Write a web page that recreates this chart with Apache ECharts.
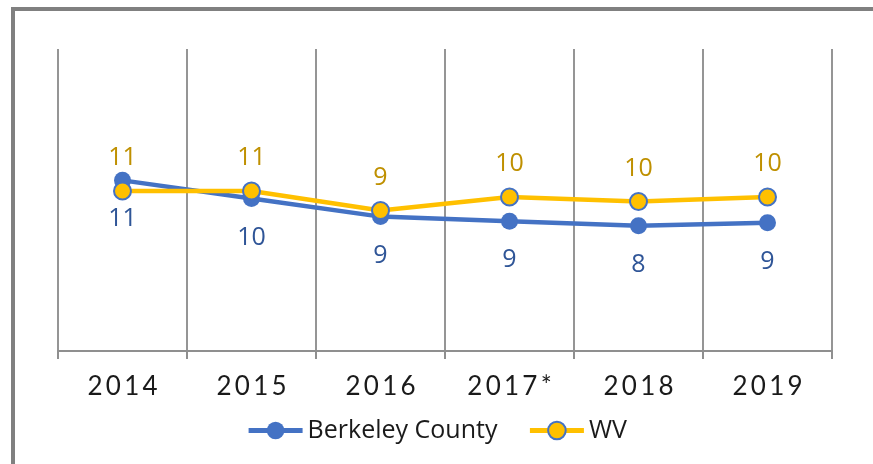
<!doctype html>
<html lang="en">
<head>
    <meta charset="utf-8">
    <title>Berkeley County vs WV</title>
    <script src="https://cdn.jsdelivr.net/npm/echarts@6/dist/echarts.min.js"></script>
    <style>
        html, body { margin: 0; padding: 0; background: #fff; }
        #main { width: 873px; height: 464px; }
    </style>
</head>
<body>
    <div id="main"></div>
    <script type="text/javascript">
        var years = ['2014', '2015', '2016', '2017*', '2018', '2019'];
        var berkeley = [11.3, 10.1, 8.9, 8.6, 8.3, 8.5];
        var wv = [10.6, 10.6, 9.3, 10.2, 9.9, 10.2];

        var blue = '#4472C4';
        var gold = '#FFC000';

        var myChart = echarts.init(document.getElementById('main'));

        function roundLabel(p) {
            return Math.round(p.value);
        }

        var option = {
            animation: false,
            backgroundColor: '#fff',
            graphic: [{
                type: 'rect',
                shape: { x: 13, y: 9, width: 2000, height: 2000 },
                style: { fill: 'none', stroke: '#808080', lineWidth: 4 },
                silent: true
            }],
            grid: { left: 58, right: 41, top: 49, bottom: 113 },
            legend: {
                top: 413,
                left: 'center',
                itemWidth: 54,
                itemHeight: 22,
                itemGap: 30,
                lineStyle: { width: 5 },
                textStyle: { fontFamily: 'Open Sans', fontSize: 25, color: '#1a1a1a' },
                data: ['Berkeley County', 'WV']
            },
            xAxis: {
                type: 'category',
                data: years,
                boundaryGap: true,
                axisLine: { lineStyle: { color: '#8f8f8f', width: 2 } },
                axisTick: { show: true, length: 8, lineStyle: { color: '#8f8f8f', width: 2 } },
                splitLine: { show: true, interval: 0, lineStyle: { color: '#959595', width: 2 } },
                axisLabel: {
                    margin: 23,
                    fontFamily: 'Lato',
                    fontSize: 26,
                    color: '#1a1a1a',
                    formatter: function (v) { return v.split('').join('\u2009'); }
                }
            },
            yAxis: {
                type: 'value',
                min: 0,
                max: 20,
                show: false,
                splitLine: { show: false }
            },
            series: [{
                name: 'Berkeley County',
                type: 'line',
                data: berkeley,
                symbol: 'circle',
                symbolSize: 17,
                lineStyle: { color: blue, width: 4.5 },
                itemStyle: { color: blue },
                label: {
                    show: true,
                    position: 'bottom',
                    distance: 18,
                    fontFamily: 'Open Sans',
                    fontSize: 25,
                    color: '#2F5597',
                    formatter: roundLabel
                }
            }, {
                name: 'WV',
                type: 'line',
                data: wv,
                symbol: 'circle',
                symbolSize: 17,
                lineStyle: { color: gold, width: 4.5 },
                itemStyle: { color: gold, borderColor: blue, borderWidth: 2 },
                label: {
                    show: true,
                    position: 'top',
                    distance: 11,
                    fontFamily: 'Open Sans',
                    fontSize: 25,
                    color: '#BF9000',
                    formatter: roundLabel
                }
            }]
        };

        myChart.setOption(option);
    </script>
</body>
</html>
